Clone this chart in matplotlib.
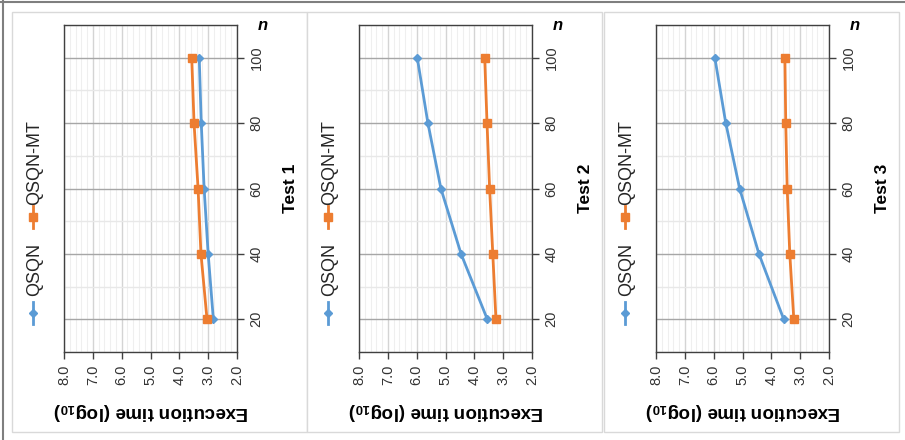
import matplotlib
matplotlib.use("Agg")
import matplotlib.pyplot as plt
from matplotlib.lines import Line2D
from matplotlib.patches import Rectangle
from matplotlib.ticker import MultipleLocator, FixedLocator

plt.rcParams["font.family"] = ["Liberation Sans", "DejaVu Sans"]
plt.rcParams["mathtext.fontset"] = "custom"
plt.rcParams["mathtext.rm"] = "Liberation Sans"
plt.rcParams["mathtext.bf"] = "Liberation Sans:bold"

# data
n_values = [20, 40, 60, 80, 100]
tests = ["Test 1", "Test 2", "Test 3"]
qsqn = [
    [2.82, 3.00, 3.14, 3.24, 3.31],
    [3.55, 4.46, 5.16, 5.61, 5.98],
    [3.57, 4.43, 5.10, 5.58, 5.96],
]
qsqn_mt = [
    [3.04, 3.25, 3.35, 3.49, 3.57],
    [3.25, 3.36, 3.47, 3.56, 3.64],
    [3.22, 3.36, 3.45, 3.50, 3.53],
]
time_ticks = [8.0, 7.0, 6.0, 5.0, 4.0, 3.0, 2.0]
series_names = ["QSQN", "QSQN-MT"]

BLUE = "#5b9bd5"
ORANGE = "#ed7d31"
W, H = 905, 440


def fx(x):
    return x / W


def fy(y):
    return 1 - y / H


fig = plt.figure(figsize=(W / 100, H / 100), dpi=100)

# outer frame (top and left edge)
fig.add_artist(Line2D([0, 1], [fy(2), fy(2)], transform=fig.transFigure, color="#7f7f7f", lw=1.5))
fig.add_artist(Line2D([fx(3), fx(3)], [0, 1], transform=fig.transFigure, color="#7f7f7f", lw=1.5))

panel_left = [12, 307, 604]
for i, title in enumerate(tests):
    x0 = panel_left[i]
    fig.add_artist(Rectangle((fx(x0), fy(432)), fx(295), (432 - 12) / H,
                             transform=fig.transFigure, facecolor="white",
                             edgecolor="#d9d9d9", lw=1, zorder=0))

    ax = fig.add_axes([fx(x0 + 52), fy(352), fx(173), (352 - 25) / H])
    ax.plot(qsqn[i], n_values, color=BLUE, lw=2, marker="D", ms=4.2, zorder=3)
    ax.plot(qsqn_mt[i], n_values, color=ORANGE, lw=2, marker="s", ms=6, zorder=4)

    ax.set_xlim(8, 2)
    ax.set_ylim(10, 110)
    ax.xaxis.set_major_locator(FixedLocator(time_ticks))
    ax.xaxis.set_minor_locator(MultipleLocator(0.2))
    ax.yaxis.set_major_locator(FixedLocator(n_values))
    ax.yaxis.set_minor_locator(MultipleLocator(10))
    ax.set_xticklabels([f"{t:.1f}" for t in time_ticks], rotation=90, va="top", ha="center")
    ax.set_yticklabels([str(v) for v in n_values], rotation=90, va="center", ha="left")

    ax.yaxis.tick_right()
    ax.tick_params(axis="both", which="major", direction="out", length=5, width=1,
                   color="#404040", labelsize=10.5, labelcolor="#333333")
    ax.tick_params(axis="x", which="major", pad=4)
    ax.tick_params(axis="y", which="major", pad=4)
    ax.tick_params(which="minor", length=0)

    ax.grid(True, axis="x", which="major", color="#d4d4d4", lw=1)
    ax.grid(True, axis="x", which="minor", color="#efefef", lw=0.8)
    ax.grid(True, axis="y", which="major", color="#a6a6a6", lw=1)
    ax.grid(True, axis="y", which="minor", color="#e8e8e8", lw=1)
    ax.set_axisbelow(True)
    for s in ax.spines.values():
        s.set_color("#404040")
        s.set_linewidth(1)

    fig.text(fx(x0 + 139), fy(411), r"Execution time (log$_\mathbf{10}$)",
             rotation=180, ha="center", va="center", fontsize=13.5, fontweight="bold")
    fig.text(fx(x0 + 278), fy(188), title, rotation=90, ha="center", va="center",
             fontsize=12.5, fontweight="bold")
    fig.text(fx(x0 + 251), fy(25), "n", ha="center", va="center", fontsize=12,
             fontweight="bold", fontstyle="italic")

    # legend drawn by hand, rotated like the rest
    lx = x0 + 21
    for name, color, mk, ms, yc, ytxt in [
        (series_names[0], BLUE, "D", 4.2, 313, 296),
        (series_names[1], ORANGE, "s", 6, 217, 205),
    ]:
        fig.add_artist(Line2D([fx(lx), fx(lx)], [fy(yc + 11), fy(yc - 11)],
                              transform=fig.transFigure, color=color, lw=2))
        fig.add_artist(Line2D([fx(lx)], [fy(yc)], transform=fig.transFigure,
                              color=color, marker=mk, ms=ms, lw=0))
        fig.text(fx(lx + 2), fy(ytxt), name, rotation=90, ha="center", va="bottom",
                 fontsize=13, color="#262626")

fig.savefig("out.png", dpi=100)
